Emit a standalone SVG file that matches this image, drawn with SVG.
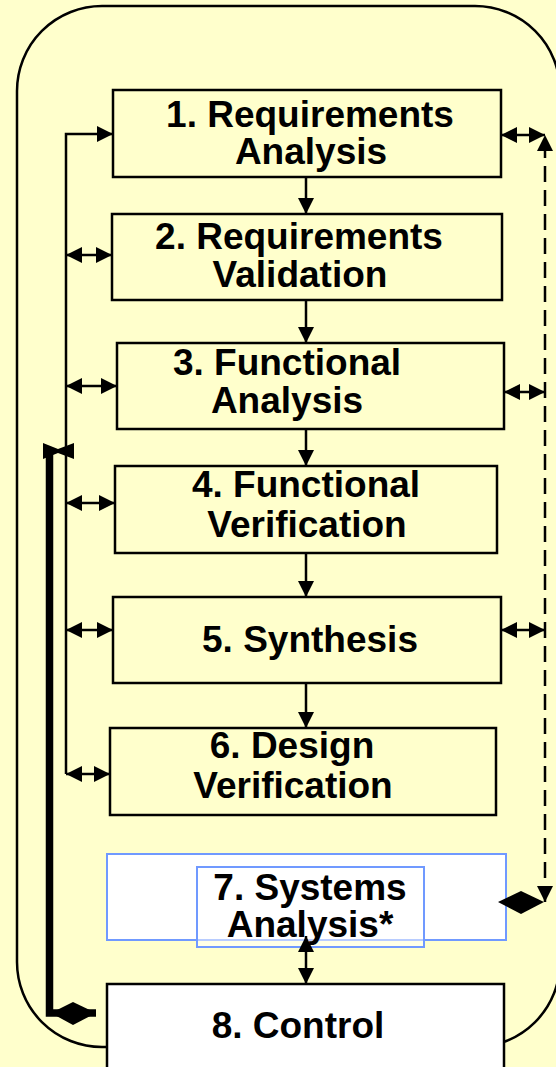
<svg xmlns="http://www.w3.org/2000/svg" width="556" height="1067" viewBox="0 0 556 1067">
<style>
.box{fill:#FFFFCC;stroke:#000;stroke-width:2.5}
.wbox{fill:#fff;stroke:#000;stroke-width:2.5}
.blue{fill:#fff;stroke:#7099FF;stroke-width:2}
.t{font-family:"Liberation Sans",Arial,sans-serif;font-weight:bold;font-size:37px;fill:#000;text-anchor:middle}
.c{fill:none;stroke:#000;stroke-width:2.5}
.d{fill:none;stroke:#000;stroke-width:2.5;stroke-dasharray:16 8}
</style>
<defs>
<marker id="ah" markerUnits="userSpaceOnUse" markerWidth="16" markerHeight="16" refX="16" refY="8" orient="auto-start-reverse" viewBox="0 0 16 16">
<path d="M0,0 L16,8 L0,16 z" fill="#000"/>
</marker>
</defs>
<rect x="0" y="0" width="556" height="1067" fill="#FFFFCC"/>
<rect x="17" y="6" width="543" height="1041" rx="85" ry="85" fill="none" stroke="#000" stroke-width="2.5"/>
<g id="connectors">
<path class="c" d="M306,168 V214" marker-end="url(#ah)"/>
<path class="c" d="M306,295 V343" marker-end="url(#ah)"/>
<path class="c" d="M306,425 V466" marker-end="url(#ah)"/>
<path class="c" d="M306,553 V597" marker-end="url(#ah)"/>
<path class="c" d="M306,678 V728" marker-end="url(#ah)"/>
<path class="c" d="M66,774 V134 H113" marker-end="url(#ah)"/>
<path class="c" d="M66,255 H112" marker-start="url(#ah)" marker-end="url(#ah)"/>
<path class="c" d="M66,386 H117" marker-start="url(#ah)" marker-end="url(#ah)"/>
<path class="c" d="M66,503 H115" marker-start="url(#ah)" marker-end="url(#ah)"/>
<path class="c" d="M66,630 H113" marker-start="url(#ah)" marker-end="url(#ah)"/>
<path class="c" d="M66,774 H110" marker-start="url(#ah)" marker-end="url(#ah)"/>
<path class="c" d="M501,135 H545" marker-start="url(#ah)" marker-end="url(#ah)"/>
<path class="c" d="M504,392 H545" marker-start="url(#ah)" marker-end="url(#ah)"/>
<path class="c" d="M501,630 H545" marker-start="url(#ah)" marker-end="url(#ah)"/>
<path class="d" d="M545,902 V135" marker-start="url(#ah)" marker-end="url(#ah)"/>
<path d="M96,1013 H49.5 V452" fill="none" stroke="#000" stroke-width="7.5"/>
<polygon points="43,443 58,449 74,443 74,459 58,453 43,459" fill="#000"/>
<polygon points="51,1013 73,1002 96,1013 73,1025" fill="#000"/>
</g>
<g id="n1"><rect class="box" x="113" y="90" width="388" height="87"/>
<text class="t" x="310" y="127">1. Requirements</text><text class="t" x="311" y="164">Analysis</text></g>
<g id="n2"><rect class="box" x="112" y="214" width="390" height="86"/>
<text class="t" x="299" y="249">2. Requirements</text><text class="t" x="300" y="287">Validation</text></g>
<g id="n3"><rect class="box" x="117" y="343" width="387" height="86"/>
<text class="t" x="287" y="375">3. Functional</text><text class="t" x="287" y="413">Analysis</text></g>
<g id="n4"><rect class="box" x="115" y="466" width="382" height="87"/>
<text class="t" x="306" y="497">4. Functional</text><text class="t" x="307" y="537">Verification</text></g>
<g id="n5"><rect class="box" x="113" y="597" width="388" height="86"/>
<text class="t" x="310" y="652">5. Synthesis</text></g>
<g id="n6"><rect class="box" x="110" y="728" width="386" height="87"/>
<text class="t" x="292" y="758">6. Design</text><text class="t" x="293" y="798">Verification</text></g>
<g id="n7"><rect class="blue" x="107" y="854" width="399" height="86"/>
<rect x="197" y="867" width="227" height="80" fill="#fff" fill-opacity="0.5" stroke="#7099FF" stroke-width="2"/>
<text class="t" x="310" y="900">7. Systems</text><text class="t" x="310" y="937">Analysis*</text></g>
<g id="n8"><rect class="wbox" x="107" y="984" width="397" height="100"/>
<text class="t" x="298" y="1038">8. Control</text></g>
<g id="n7-connector"><path class="c" d="M306,936 V984" marker-start="url(#ah)" marker-end="url(#ah)"/>
<polygon points="498,902 521,891 544,902 521,914" fill="#000"/></g>
</svg>
